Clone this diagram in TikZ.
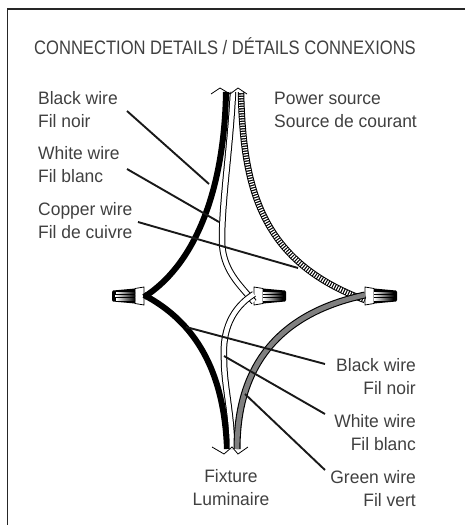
\documentclass[tikz,border=0pt]{standalone}
\usepackage{fontspec}
\setmainfont[FakeStretch=0.85]{Liberation Sans}
\newfontfamily\labelfont[FakeStretch=0.97]{Liberation Sans}
\tikzset{
  wire/.style= {
    line width = #1,
    line cap = butt
  },
  leader/.style= {
    color = black!90,
    line width = 1.9pt
  },
  chevron/.style= {
    color = black,
    line width = 0.8pt
  },
  wirelabel/.style= {
    font = \labelfont\fontsize{18}{23}\selectfont,
    color = black!75,
    inner sep = 0pt
  },
  wirenut/.pic = {
    \draw[black,line width=0.8pt,fill=white] (0,-9) -- (9,-7.5) -- (9,7.5) -- (0,9) -- cycle;
    \fill[black] (9,-7.5) -- (31,-5.5) -- (32,-4) -- (32,4) -- (31,5.5) -- (9,7.5) -- cycle;
    \fill[left color=white,right color=black] (9,-4) rectangle (28,-2.8);
    \fill[left color=white,right color=black] (9,-0.6) rectangle (29,0.6);
    \fill[left color=white,right color=black] (9,2.8) rectangle (28,4);
  }
}
\begin{document}
\begin{tikzpicture}[x=1pt,y=-1pt]
  \useasboundingbox (0,0) rectangle (465,525);
  \draw[black!85,line width=1.3pt] (7.5,525) -- (7.5,9) -- (465,9);

  \node[font=\fontsize{19.5}{24}\selectfont,color=black!75,inner sep=0pt,anchor=base west] (title) at (34,54) {CONNECTION DETAILS / DÉTAILS CONNEXIONS};

  % wire nuts
  \pic (nutL) at (144,296) [xscale=-1] {wirenut};
  \pic (nutC) at (254,296) {wirenut};
  \pic (nutR) at (365,296) {wirenut};

  \coordinate (hubL) at (144,296);
  \coordinate (hubC) at (254,296);
  \coordinate (hubR) at (365,296);
  \coordinate (topB) at (226,92);
  \coordinate (topW) at (233,92);
  \coordinate (topC) at (241,92);
  \coordinate (botB) at (227,449);
  \coordinate (botW) at (232,449);
  \coordinate (botG) at (237,449);

  % upper wires
  \draw[wire=6pt] (topB) .. controls (224,200) and (190,268) .. ([yshift=-1]hubL);
  \draw[wire=6.5pt] (topW) .. controls (230,150) and (222,200) .. (222,240) .. controls (222,270) and (240,285) .. ([yshift=-6]hubC);
  \draw[wire=4.5pt,white] (topW) .. controls (230,150) and (222,200) .. (222,240) .. controls (222,270) and (240,285) .. ([yshift=-6]hubC);
  \draw[wire=6.5pt] (topC) .. controls (243,190) and (262,262) .. ([yshift=-4]hubR);
  \draw[wire=4.5pt,white,dash pattern=on 1.2pt off 1.3pt] (topC) .. controls (243,190) and (262,262) .. ([yshift=-4]hubR);

  % lower wires
  \draw[wire=6pt] ([yshift=1]hubL) .. controls (195,322) and (224,370) .. (botB);
  \draw[wire=6.5pt] (botW) .. controls (232,415) and (224,385) .. (224,360) .. controls (222,330) and (232,308) .. ([yshift=2]hubC);
  \draw[wire=4.5pt,white] (botW) .. controls (232,415) and (224,385) .. (224,360) .. controls (222,330) and (232,308) .. ([yshift=2]hubC);
  \draw[wire=7pt] (botG) .. controls (237,360) and (285,312) .. ([yshift=1]hubR);
  \draw[wire=4.8pt,black!50] (botG) .. controls (237,360) and (285,312) .. ([yshift=1]hubR);

  % cut marks
  \draw[chevron] (211,94) -- (220,88) -- (230,94) -- (238,88) -- (247,94);
  \draw[chevron] (212,447) -- (224,454) -- (232,447) -- (238,454) -- (248,447);

  % labels
  \node[wirelabel,align=left,anchor=west] (lblblacktop) at (38,110) {Black wire\\Fil noir};
  \node[wirelabel,align=left,anchor=west] (lblwhitetop) at (38,165) {White wire\\Fil blanc};
  \node[wirelabel,align=left,anchor=west] (lblcopper) at (38,221) {Copper wire\\Fil de cuivre};
  \node[wirelabel,align=left,anchor=west] (lblpower) at (274,110) {Power source\\Source de courant};
  \node[wirelabel,align=right,anchor=east] (lblblackbot) at (416,377) {Black wire\\Fil noir};
  \node[wirelabel,align=right,anchor=east] (lblwhitebot) at (416,433) {White wire\\Fil blanc};
  \node[wirelabel,align=right,anchor=east] (lblgreen) at (416,489) {Green wire\\Fil vert};
  \node[wirelabel,align=center,anchor=center] (lblfixture) at (231,488) {Fixture\\Luminaire};

  % leaders
  \coordinate (fromblacktop) at (127,111);
  \coordinate (fromwhitetop) at (127,169);
  \coordinate (fromcopper) at (138,222);
  \coordinate (fromblackbot) at (325,364);
  \coordinate (fromwhitebot) at (325,414);
  \coordinate (fromgreen) at (325,470);
  \coordinate (onblacktop) at (209,184);
  \coordinate (onwhitetop) at (219,222);
  \coordinate (oncopper) at (298,268);
  \coordinate (onblackbot) at (186,327);
  \coordinate (onwhitebot) at (224,356);
  \coordinate (ongreen) at (245,394);
  \draw[leader] (fromblacktop) -- (onblacktop);
  \draw[leader] (fromwhitetop) -- (onwhitetop);
  \draw[leader] (fromcopper) -- (oncopper);
  \draw[leader] (fromblackbot) -- (onblackbot);
  \draw[leader] (fromwhitebot) -- (onwhitebot);
  \draw[leader] (fromgreen) -- (ongreen);
\end{tikzpicture}
\end{document}
